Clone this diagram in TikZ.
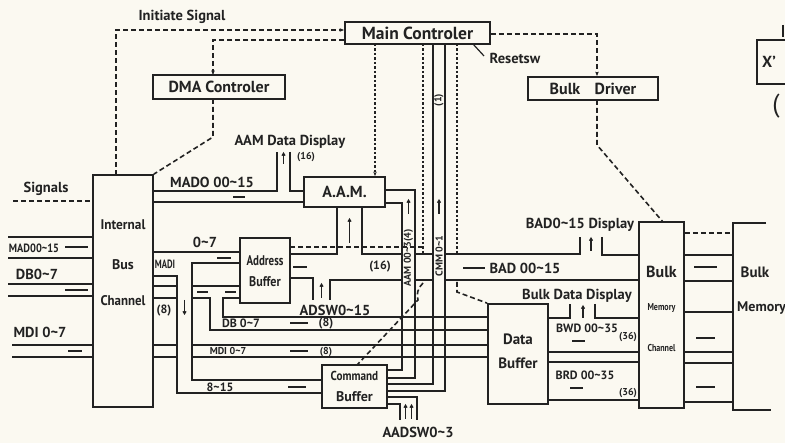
\documentclass[tikz,border=0pt]{standalone}
\usepackage{fontspec}
\setmainfont{PT Sans}
\usetikzlibrary{arrows.meta}
\definecolor{paper}{RGB}{251,249,241}
\definecolor{ink}{RGB}{34,34,34}
\newcommand{\wv}{\textasciitilde{}}
\begin{document}
\begin{tikzpicture}[x=1pt,y=-1pt,
  ln/.style={draw=ink,line width=1.6pt},
  dsh/.style={draw=ink,line width=1.6pt,dash pattern=on 5pt off 3pt},
  dtt/.style={draw=ink,line width=1.6pt,dash pattern=on 2.5pt off 2pt},
  blk/.style={draw=ink,line width=1.8pt,fill=paper,inner sep=0pt,text=ink,font=\bfseries\fontsize{16}{17}\selectfont},
  lbl/.style={text=ink,inner sep=0pt,font=\bfseries\fontsize{14.5}{15}\selectfont},
  sml/.style={text=ink,inner sep=0pt,font=\bfseries\fontsize{12}{13}\selectfont},
  tny/.style={text=ink,inner sep=0pt,font=\bfseries\fontsize{10}{11}\selectfont},
  bxt/.style={text=ink,inner sep=0pt,font=\bfseries\fontsize{14}{15}\selectfont},
  ar/.style={-{Stealth[length=4.5pt,width=3.5pt]}},
  upa/.style={draw=ink,line width=1.2pt,-{Straight Barb[length=2.5pt,width=3pt]}},
  bar/.style={draw=ink,line width=1.5pt},
]
\fill[paper] (0,0) rectangle (785,443);
\useasboundingbox (0,0) rectangle (785,443);

% ---------- boxes ----------
\node[blk,minimum width=145pt,minimum height=22pt,font=\bfseries\fontsize{17.5}{18}\selectfont] (main) at (417.5,33) {Main Controler};
\node[blk,minimum width=132pt,minimum height=24pt] (dma) at (219,87) {DMA Controler};
\node[blk,minimum width=130pt,minimum height=23pt] (bdrv) at (593,88.5) {Bulk\hspace{0.9em}Driver};
\node[blk,minimum width=60pt,minimum height=232pt] (ibc) at (123,291) {};
\node[blk,minimum width=81pt,minimum height=30pt] (aam) at (344.5,192) {A.A.M.};
\node[blk,minimum width=50pt,minimum height=65pt] (abuf) at (265,270.5) {};
\node[blk,minimum width=65pt,minimum height=43pt] (cbuf) at (354.5,386.5) {};
\node[blk,minimum width=60pt,minimum height=100pt] (dbuf) at (518,354) {};
\node[blk,minimum width=45pt,minimum height=186pt] (bmc) at (661.5,315) {};

\node[bxt,xscale=0.95] (t1) at (123,225) {Internal};
\node[bxt] (t2) at (123,265) {Bus};
\node[bxt,xscale=0.92] (t3) at (123,301) {Channel};
\node[bxt,xscale=0.78] (t4) at (265,261) {Address};
\node[bxt,xscale=0.86] (t5) at (265,282) {Buffer};
\node[bxt,font=\bfseries\fontsize{13}{14}\selectfont,xscale=0.86] (t6) at (354.5,376) {Command};
\node[bxt] (t7) at (354.5,397) {Buffer};
\node[bxt,font=\bfseries\fontsize{15}{16}\selectfont] (t8) at (518,339) {Data};
\node[bxt,font=\bfseries\fontsize{15}{16}\selectfont] (t9) at (518,363) {Buffer};
\node[bxt,font=\bfseries\fontsize{16}{17}\selectfont] (t10) at (661.5,272) {Bulk};
\node[tny,xscale=0.8] (t11) at (661.5,308) {Memory};
\node[tny,xscale=0.8] (t12) at (661.5,348) {Channel};

% bulk memory (open box at right edge)
\draw[ln,line width=1.8pt] (766,223) -- (733,223) -- (733,410) -- (771,410);
\node[bxt,font=\bfseries\fontsize{15}{16}\selectfont] (t13) at (755,272) {Bulk};
\node[bxt,anchor=west] (t14) at (737,308) {Memory};

% partial box at top right
\draw[ln,line width=1.8pt] (785,40) -- (757,40) -- (757,84) -- (785,84);
\node[bxt,font=\bfseries\fontsize{16}{17}\selectfont] (t15) at (769,62) {X'};
\node[bxt,font=\fontsize{26}{28}\selectfont] (t16) at (776,106) {(};
\draw[ln,line width=2pt] (783,25) -- (783,37);

% ---------- top control lines ----------
\node[lbl] (initl) at (182,17) {Initiate Signal};
\draw[dsh,ar] (116,175) -- (116,30) -- (main.west |- 0,30);
\draw[dsh,ar] (main.west |- 0,40) -- (213,40) -- (213,75);
\draw[dsh] (213,99) -- (213,137) -- (ibc.north east);
\draw[dtt,ar] (375,44) -- (aam.north -| 375,0);
\draw[dtt] (423,44) -- (423,254);
\draw[dsh] (423,247) -- (abuf.east |- 0,247);
\draw[dtt] (457,44) -- (457,254);
\draw[dsh] (457,282) -- (457,292) -- (dbuf.north west);
\draw[dsh] (423,283) .. controls (418,288) and (416,294) .. (418,300) -- (357,365);
\draw[ln,line width=1.2pt] (473,44) -- (484,56);
\node[lbl] (rst) at (515,58) {Resetsw};
\draw[dsh,ar] (main.east |- 0,34) -- (597,34) -- (bdrv.north -| 597,0);
\draw[dsh] (597,100) -- (597,145) -- (663,222);

% ---------- left inputs ----------
\node[lbl] (sig) at (46,189) {Signals};
\draw[dsh] (13,201) -- (ibc.west |- 0,201);
\node[sml,xscale=0.86] (madl) at (34,248) {MAD00\wv15};
\draw[bar] (65,247) -- (88,247);
\draw[ln] (8,237) -- (ibc.west |- 0,237);
\draw[ln] (8,258) -- (ibc.west |- 0,258);
\node[lbl] (dbl) at (37,274) {DB0\wv7};
\draw[ln] (8,284) -- (ibc.west |- 0,284);
\draw[ln] (8,296) -- (ibc.west |- 0,296);
\draw[bar] (65,290) -- (88,290);
\node[lbl] (mdil) at (40,332) {MDI 0\wv7};
\draw[ln] (12,345) -- (ibc.west |- 0,345);
\draw[ln] (12,357) -- (ibc.west |- 0,357);
\draw[bar] (68,351) -- (82,351);

% ---------- MADO bus to AAM ----------
\node[lbl] (madol) at (212,182) {MADO 00\wv15};
\draw[ln] (ibc.east |- 0,191) -- (277,191) -- (277,152);
\draw[ln] (290,152) -- (290,191) -- (aam.west |- 0,191);
\draw[ln] (ibc.east |- 0,202) -- (aam.west |- 0,202);
\draw[bar] (233,197) -- (245,197);
\node[lbl] (aamd) at (290,142) {AAM Data Display};
\draw[upa] (283.5,164) -- (283.5,152);
\node[tny] (n16a) at (306,157) {(16)};

% ---------- AAM legs / address buffer output ----------
\draw[ln] (337,207) -- (337,254) -- (abuf.east |- 0,254);
\draw[ln] (362,207) -- (362,254) -- (402,254);
\draw[upa] (349.5,243) -- (349.5,218);
\draw[ln] (abuf.east |- 0,278) -- (313,278) -- (313,300);
\draw[ln] (330,300) -- (330,280) -- (402,280);
\draw[upa] (321.5,298) -- (321.5,283);
\draw[bar] (293,267) -- (307,267);
\node[sml] (n16b) at (380,267) {(16)};
\node[lbl] (adsw) at (335,310) {ADSW0\wv15};

% AAM 00~3(4)
\draw[ln] (aam.east |- 0,190) -- (415,190) -- (415,378) -- (cbuf.east |- 0,378);
\draw[ln] (aam.east |- 0,203) -- (402,203) -- (402,370) -- (cbuf.east |- 0,370);
\draw[upa] (408.5,214) -- (408.5,199);
\node[tny,rotate=90] (aaml) at (408.5,258) {AAM 00\wv3(4)};

% CMM 0~1
\draw[ln] (433,44) -- (433,384) -- (cbuf.east |- 0,384);
\draw[ln] (445,44) -- (445,391) -- (cbuf.east |- 0,391);
\draw[upa] (439,214) -- (439,199);
\node[tny,rotate=90] (cmml) at (439,256) {CMM 0\wv1};
\node[tny,rotate=90] (cmm1) at (439,100) {(1)};

% AADSW0~3
\draw[ln] (400,420) -- (400,404) -- (cbuf.east |- 0,404);
\draw[ln] (417,420) -- (417,397) -- (cbuf.east |- 0,397);
\draw[upa] (405.5,419) -- (405.5,404);
\draw[upa] (411.5,419) -- (411.5,404);
\node[lbl] (aadsw) at (418,432) {AADSW0\wv3};

% ---------- BAD bus ----------
\draw[ln] (415,254) -- (433,254);
\draw[ln] (445,254) -- (580,254) -- (580,237);
\draw[ln] (602,237) -- (602,255) -- (bmc.west |- 0,255);
\draw[ln] (415,280) -- (433,280);
\draw[ln] (445,280) -- (bmc.west |- 0,280);
\draw[bar] (463,268) -- (485,268);
\node[lbl] (badl) at (525,268) {BAD 00\wv15};
\node[lbl] (badd) at (580,225) {BAD0\wv15 Display};
\draw[upa] (591,251) -- (591,237);

% ---------- BWD / BRD ----------
\node[lbl] (bdd) at (577,296) {Bulk Data Display};
\draw[ln] (dbuf.east |- 0,318) -- (570,318) -- (570,304);
\draw[ln] (595,304) -- (595,318) -- (bmc.west |- 0,318);
\draw[upa] (583,318) -- (583,305);
\draw[ln] (dbuf.east |- 0,352) -- (bmc.west |- 0,352);
\node[sml] (bwd) at (587,328) {BWD 00\wv35};
\draw[bar] (572,341) -- (585,341);
\node[tny] (n36a) at (628,337) {(36)};
\draw[ln] (dbuf.east |- 0,362) -- (bmc.west |- 0,362);
\draw[ln] (dbuf.east |- 0,400) -- (bmc.west |- 0,400);
\node[sml] (brd) at (585,375) {BRD 00\wv35};
\draw[bar] (570,388) -- (583,388);
\node[tny] (n36b) at (628,393) {(36)};

% ---------- BMC to bulk memory ----------
\draw[dsh] (bmc.east |- 0,233) -- (733,233);
\draw[ln] (bmc.east |- 0,255) -- (733,255);
\draw[ln] (bmc.east |- 0,281) -- (733,281);
\draw[bar] (694,267) -- (717,267);
\draw[ln] (bmc.east |- 0,312) -- (733,312);
\draw[ln] (bmc.east |- 0,352) -- (733,352);
\draw[bar] (696,338) -- (715,338);
\draw[ln] (bmc.east |- 0,363) -- (733,363);
\draw[ln] (bmc.east |- 0,402) -- (733,402);
\draw[bar] (696,387) -- (715,387);

% ---------- MADI / DB / MDI on the right of the channel ----------
\node[sml,xscale=0.72] (madi) at (165,264) {MADI};
\node[lbl] (n07) at (205,242) {0\wv7};
\draw[ln] (ibc.east |- 0,252) -- (abuf.west |- 0,252);
\draw[bar] (217,258) -- (231,258);
\draw[ln] (abuf.west |- 0,263) -- (192,263) -- (192,380) -- (cbuf.west |- 0,380);
\draw[ln] (ibc.east |- 0,276) -- (177,276) -- (177,393) -- (cbuf.west |- 0,393);
\draw[upa] (184.5,300) -- (184.5,315);
\node[sml] (n8a) at (164,311) {(8)};
\node[sml] (n815) at (220,387) {8\wv15};
\draw[bar] (288,387) -- (306,387);

\draw[ln] (ibc.east |- 0,286) -- (177,286);
\draw[ln] (192,286) -- (abuf.west |- 0,286);
\draw[ln] (ibc.east |- 0,298) -- (177,298);
\draw[ln] (192,298) -- (210,298) -- (210,330) -- (dbuf.west |- 0,330);
\draw[ln] (abuf.west |- 0,298) -- (223,298) -- (223,317) -- (dbuf.west |- 0,317);
\draw[bar] (197,292) -- (208,292);
\draw[bar] (225,292) -- (236,292);
\node[sml] (dbr) at (241,323) {DB 0\wv7};
\draw[bar] (290,323) -- (308,323);
\node[sml] (n8b) at (326,324) {(8)};

\draw[ln] (ibc.east |- 0,345) -- (177,345);
\draw[ln] (192,345) -- (dbuf.west |- 0,345);
\draw[ln] (ibc.east |- 0,357) -- (177,357);
\draw[ln] (192,357) -- (dbuf.west |- 0,357);
\node[tny] (mdir) at (228,351) {MDI 0\wv7};
\draw[bar] (290,351) -- (308,351);
\node[tny] (n8c) at (326,352) {(8)};
\end{tikzpicture}
\end{document}
